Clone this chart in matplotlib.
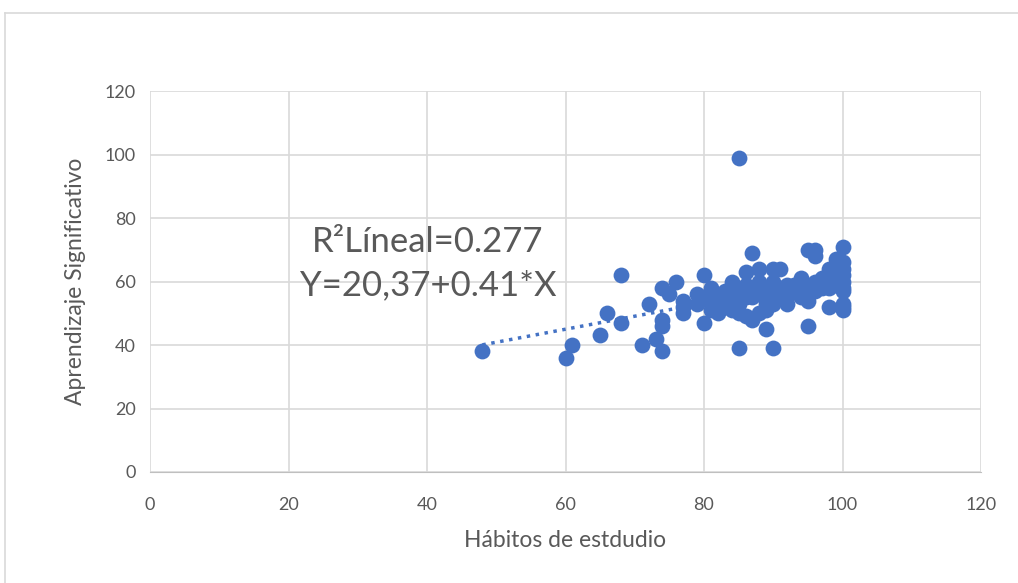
import matplotlib.pyplot as plt
from matplotlib.lines import Line2D

# Datos (Hábitos de estudio vs Aprendizaje Significativo)
habitos = [48, 60, 61, 65, 66, 68, 68, 71, 72, 73, 74, 74, 74, 74, 75, 76, 77, 77, 77,
           79, 79, 80, 80, 80, 81, 81, 81, 82, 82, 83, 83, 83, 84, 84, 84,
           85, 85, 85, 85, 85, 86, 86, 86, 86, 87, 87, 87, 87, 88, 88, 88, 88,
           89, 89, 89, 89, 90, 90, 90, 90, 90, 91, 91, 91, 92, 92, 92, 93, 93,
           94, 94, 94, 95, 95, 95, 95, 95, 96, 96, 96, 96, 96, 97, 97,
           98, 98, 98, 98, 98, 99, 99, 99, 99, 99,
           100, 100, 100, 100, 100, 100, 100, 100, 100, 100]
aprendizaje = [38, 36, 40, 43, 50, 62, 47, 40, 53, 42, 58, 48, 46, 38, 56, 60, 54, 52, 50,
               56, 53, 62, 47, 55, 58, 53, 51, 55, 50, 54, 52, 57, 60, 55, 51,
               99, 53, 50, 39, 57, 63, 59, 55, 49, 69, 58, 48, 55, 64, 60, 50, 56,
               45, 53, 58, 51, 64, 39, 60, 55, 53, 64, 58, 56, 59, 55, 53, 57, 59,
               61, 55, 58, 70, 46, 56, 54, 58, 70, 68, 60, 57, 59, 58, 61,
               64, 52, 62, 60, 58, 67, 65, 63, 61, 59,
               71, 66, 64, 62, 60, 58, 57, 53, 52, 51]

# Línea de tendencia
a, b = 20.37, 0.41
tx = [min(habitos), max(habitos)]
ty = [a + b * v for v in tx]

gris = '#595959'
azul = '#4472C4'

fig = plt.figure(figsize=(10.18, 5.83), dpi=100)
ax = fig.add_axes([150 / 1018, 1 - 472 / 583, 831 / 1018, 381 / 583])

ax.plot(tx, ty, linestyle=(0, (1, 1.6)), color=azul, linewidth=2.5, zorder=2)
ax.scatter(habitos, aprendizaje, s=130, color=azul, zorder=3, linewidths=0)

ax.set_xlim(0, 120)
ax.set_ylim(0, 120)
ax.set_xticks(range(0, 121, 20))
ax.set_yticks(range(0, 121, 20))
ax.grid(True, color='#d9d9d9', linewidth=1.2)
ax.set_axisbelow(True)
for s in ax.spines.values():
    s.set_visible(False)
ax.spines['bottom'].set_visible(True)
ax.spines['bottom'].set_color('#bfbfbf')
ax.tick_params(axis='x', length=0, labelsize=13, labelcolor=gris, pad=18)
ax.tick_params(axis='y', length=0, labelsize=13, labelcolor=gris, pad=10)
for lab in ax.get_xticklabels() + ax.get_yticklabels():
    lab.set_family('Lato')

ax.set_xlabel('Hábitos de estdudio', fontsize=16.5, color=gris, family='Lato', labelpad=12)
ax.set_ylabel('Aprendizaje Significativo', fontsize=16.5, color=gris, family='Lato', labelpad=14)

ax.text(428 / 1018, 1 - 242 / 583, 'R²Líneal=0.277', transform=fig.transFigure,
        ha='center', va='center', fontsize=25, color=gris, family='Lato')
ax.text(428 / 1018, 1 - 285 / 583, 'Y=20,37+0.41*X', transform=fig.transFigure,
        ha='center', va='center', fontsize=25, color=gris, family='Lato')

# Borde del área del gráfico
fig.add_artist(Line2D([5 / 1018, 1.0], [1 - 13 / 583] * 2, color='#d9d9d9', linewidth=1.2))
fig.add_artist(Line2D([5 / 1018] * 2, [0, 1 - 13 / 583], color='#d9d9d9', linewidth=1.2))

fig.savefig('out.png', dpi=100)
